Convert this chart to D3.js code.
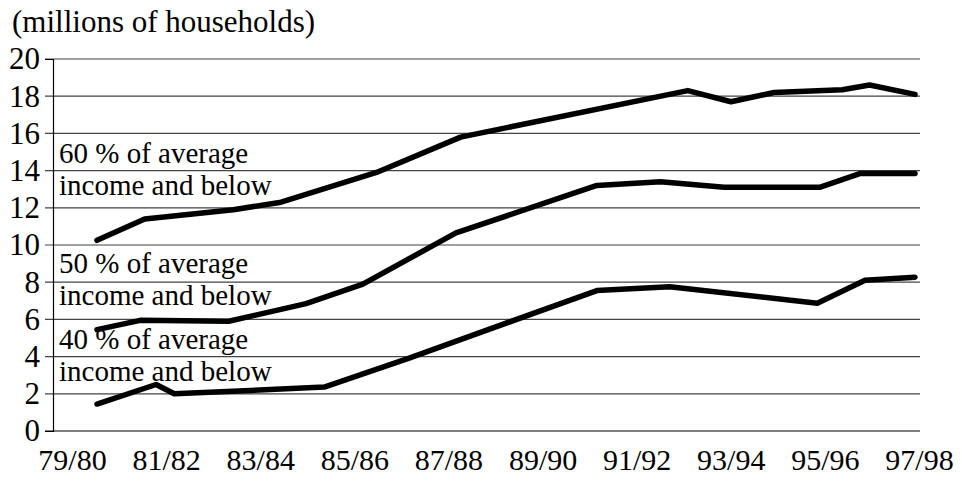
<!DOCTYPE html>
<html>
<head>
<meta charset="utf-8">
<script src="https://d3js.org/d3.v7.min.js"></script>
<style>
  body { margin: 0; background: #fff; }
</style>
</head>
<body>
<div id="graph"></div>
<script>
// x = fiscal year start (79 = 79/80), fractional where the kink sits between years
var below60 = [[79, 10.25], [80.05, 11.4], [82, 11.9], [83.05, 12.3], [85.15, 13.9], [87, 15.8],
               [92, 18.3], [92.95, 17.7], [93.9, 18.2], [95.4, 18.35], [96, 18.6], [97, 18.1]];
var below50 = [[79, 5.45], [79.95, 5.95], [81.9, 5.9], [83.6, 6.85], [84.85, 7.9], [86.9, 10.65],
               [90, 13.2], [91.4, 13.4], [92.8, 13.1], [94.9, 13.1], [95.8, 13.85], [97, 13.85]];
var below40 = [[79, 1.45], [80.3, 2.5], [80.7, 2.0], [84, 2.36], [85.9, 3.95], [90, 7.55],
               [91.6, 7.75], [94.85, 6.87], [95.9, 8.1], [97, 8.27]];

var seriesLabels = [["60 % of average", "income and below"],
                    ["50 % of average", "income and below"],
                    ["40 % of average", "income and below"]];
var labelAt = [14.4, 8.5, 4.4];   // y value of the first baseline of each label

var tickLabels = ["79/80", "81/82", "83/84", "85/86", "87/88", "89/90", "91/92", "93/94", "95/96", "97/98"];
var yTicks = [0, 2, 4, 6, 8, 10, 12, 14, 16, 18, 20];

var chartW = 962, chartH = 482;
var plotL = 53, plotR = 920, plotT = 59, plotB = 431;
var serif = "'Liberation Serif', 'Times New Roman', Tinos, 'DejaVu Serif', serif";

var svg = d3.select("#graph")
    .append("svg")
    .attr("width", chartW)
    .attr("height", chartH)
    .attr("font-family", serif);

var y = d3.scaleLinear().domain([0, 20]).range([plotB, plotT]);
var x = d3.scaleLinear().domain([79, 97]).range([97, 915]);
var xLab = d3.scalePoint().domain(tickLabels).range([72, 919]);

// gridlines
svg.append("g")
    .selectAll("line")
    .data(yTicks)
    .enter().append("line")
    .attr("x1", plotL - 8)
    .attr("x2", plotR)
    .attr("y1", function(d) { return y(d); })
    .attr("y2", function(d) { return y(d); })
    .attr("stroke", function(d) { return d == 0 ? "#000" : "#444"; })
    .attr("stroke-width", 1.2);

var yAxis = svg.append("g")
    .attr("transform", "translate(" + plotL + ",0)")
    .call(d3.axisLeft(y).tickValues(yTicks).tickSize(8).tickPadding(5));
yAxis.attr("font-family", serif).attr("font-size", 31);
yAxis.select(".domain").attr("stroke", "#000").attr("stroke-width", 1.2);
yAxis.selectAll(".tick line").remove();

var xAxis = svg.append("g")
    .attr("transform", "translate(0," + plotB + ")")
    .call(d3.axisBottom(xLab).tickSize(0).tickPadding(10));
xAxis.attr("font-family", serif).attr("font-size", 30);
xAxis.select(".domain").remove();
xAxis.selectAll("text").attr("dy", "0.95em");

var line = d3.line()
    .x(function(d) { return x(d[0]); })
    .y(function(d) { return y(d[1]); });

svg.append("g")
    .selectAll("path")
    .data([below60, below50, below40])
    .enter().append("path")
    .attr("d", line)
    .attr("fill", "none")
    .attr("stroke", "#000")
    .attr("stroke-width", 5.5)
    .attr("stroke-linejoin", "round")
    .attr("stroke-linecap", "round");

var lab = svg.append("g")
    .selectAll("text")
    .data(seriesLabels)
    .enter().append("text")
    .attr("x", 59)
    .attr("y", function(d, i) { return y(labelAt[i]); })
    .attr("font-size", 29);
lab.selectAll("tspan")
    .data(function(d) { return d; })
    .enter().append("tspan")
    .attr("x", 59)
    .attr("dy", function(d, i) { return i == 0 ? 0 : 32; })
    .text(function(d) { return d; });

svg.append("text")
    .attr("x", 12)
    .attr("y", 32)
    .attr("font-size", 31)
    .text("(millions of households)");
</script>
</body>
</html>
